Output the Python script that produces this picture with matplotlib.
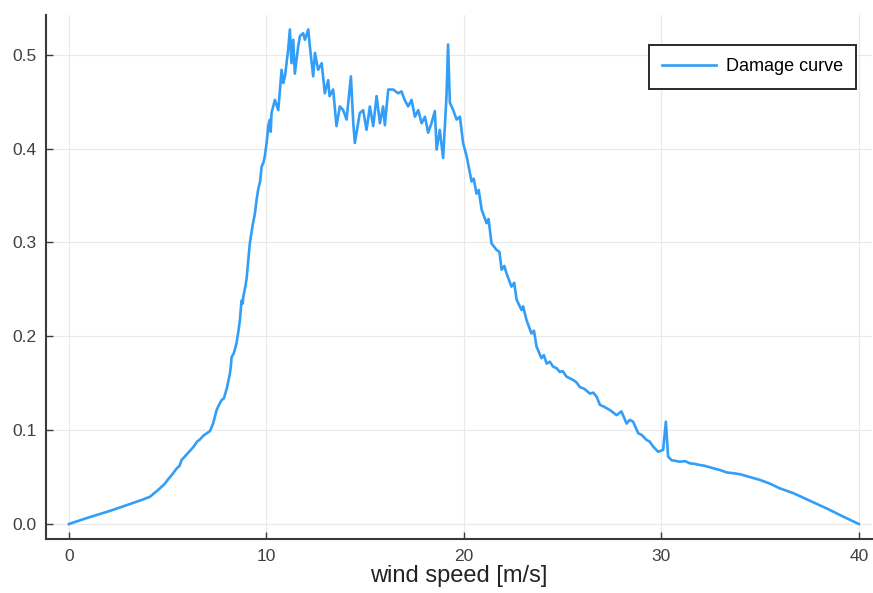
import matplotlib
matplotlib.use("Agg")
import matplotlib.pyplot as plt

# Damage curve (wind speed in m/s, damage)
wind_speed = [
    0.00, 1.00, 2.08, 2.90, 3.68, 4.10, 4.50, 4.86, 5.00, 5.20, 5.45, 5.60,
    5.70, 5.96, 6.13, 6.30, 6.50, 6.63, 6.80, 7.14, 7.30, 7.48, 7.60, 7.73,
    7.85, 8.00, 8.15, 8.20, 8.24, 8.35, 8.49, 8.58, 8.66, 8.74, 8.80, 8.83,
    8.95, 9.00, 9.10, 9.16, 9.30, 9.42, 9.50, 9.58, 9.68, 9.76, 9.85, 9.92,
    10.01, 10.10, 10.18, 10.22, 10.26, 10.43, 10.60, 10.77, 10.85, 10.94,
    11.10, 11.19, 11.27, 11.36, 11.44, 11.61, 11.70, 11.86, 11.95, 12.12,
    12.20, 12.37, 12.46, 12.62, 12.80, 12.96, 13.13, 13.20, 13.38, 13.55,
    13.72, 13.89, 14.06, 14.28, 14.40, 14.48, 14.73, 14.90, 15.07, 15.24,
    15.41, 15.58, 15.75, 15.91, 16.00, 16.17, 16.42, 16.67, 16.84, 17.00,
    17.18, 17.35, 17.52, 17.69, 17.86, 18.03, 18.19, 18.36, 18.53, 18.62,
    18.78, 18.95, 19.12, 19.20, 19.29, 19.46, 19.63, 19.80, 19.96, 20.14,
    20.39, 20.50, 20.64, 20.75, 20.90, 21.15, 21.25, 21.40, 21.66, 21.80,
    21.91, 22.05, 22.16, 22.41, 22.55, 22.67, 22.92, 23.00, 23.17, 23.42,
    23.55, 23.68, 23.93, 24.05, 24.19, 24.35, 24.52, 24.70, 24.86, 25.00,
    25.20, 25.53, 25.70, 25.87, 26.10, 26.38, 26.55, 26.72, 26.89, 27.10,
    27.39, 27.55, 27.73, 27.98, 28.24, 28.40, 28.57, 28.83, 29.00, 29.25,
    29.40, 29.59, 29.84, 30.09, 30.23, 30.34, 30.52, 30.94, 31.20, 31.44,
    31.70, 31.95, 32.20, 32.46, 32.70, 32.96, 33.30, 33.70, 34.00, 34.50,
    34.99, 35.50, 36.00, 36.67, 37.50, 38.36, 39.20, 40.00,
]
damage = [
    0.000, 0.007, 0.014, 0.020, 0.0256, 0.029, 0.036, 0.043, 0.047, 0.052, 0.059, 0.062,
    0.068, 0.074, 0.078, 0.082, 0.088, 0.090, 0.094, 0.099, 0.107, 0.1215, 0.127, 0.132,
    0.134, 0.145, 0.160, 0.168, 0.178, 0.182, 0.193, 0.205, 0.2175, 0.238, 0.235, 0.242,
    0.255, 0.262, 0.285, 0.299, 0.318, 0.331, 0.345, 0.356, 0.365, 0.381, 0.385, 0.392,
    0.406, 0.425, 0.431, 0.418, 0.438, 0.452, 0.441, 0.484, 0.470, 0.477,
    0.505, 0.527, 0.491, 0.516, 0.480, 0.509, 0.520, 0.523, 0.516, 0.527,
    0.509, 0.477, 0.502, 0.484, 0.491, 0.459, 0.473, 0.456, 0.463, 0.424,
    0.445, 0.441, 0.431, 0.477, 0.427, 0.406, 0.438, 0.441, 0.420, 0.445,
    0.424, 0.456, 0.427, 0.445, 0.425, 0.463, 0.463, 0.459, 0.461, 0.452,
    0.445, 0.452, 0.434, 0.441, 0.427, 0.434, 0.417, 0.427, 0.440, 0.399,
    0.420, 0.390, 0.456, 0.511, 0.449, 0.441, 0.431, 0.434, 0.406, 0.392,
    0.365, 0.368, 0.352, 0.356, 0.335, 0.3205, 0.325, 0.299, 0.292, 0.290,
    0.271, 0.275, 0.267, 0.253, 0.257, 0.239, 0.228, 0.232, 0.2175, 0.203,
    0.206, 0.189, 0.1767, 0.180, 0.171, 0.173, 0.1677, 0.166, 0.162, 0.163,
    0.157, 0.1535, 0.151, 0.146, 0.144, 0.139, 0.140, 0.1357, 0.127, 0.125,
    0.1215, 0.119, 0.116, 0.120, 0.107, 0.111, 0.109, 0.0967, 0.095, 0.0896,
    0.088, 0.0824, 0.077, 0.079, 0.109, 0.0718, 0.068, 0.0664, 0.067, 0.0647,
    0.064, 0.0629, 0.062, 0.0604, 0.059, 0.0576, 0.055, 0.054, 0.053, 0.050,
    0.047, 0.043, 0.038, 0.033, 0.025, 0.0167, 0.008, 0.000,
]

xticks = [0, 10, 20, 30, 40]
yticks = [0.0, 0.1, 0.2, 0.3, 0.4, 0.5]

plt.rcParams['font.family'] = ['Liberation Sans', 'DejaVu Sans']

fig = plt.figure(figsize=(8.73, 5.93), dpi=100)
ax = fig.add_axes([0.0527, 0.091, 0.946, 0.884])

ax.plot(wind_speed, damage, color='#339ef7', lw=1.9, label='Damage curve')

ax.set_xlim(-1.16, 40.66)
ax.set_ylim(-0.016, 0.5426)
ax.set_xticks(xticks)
ax.set_xticklabels([str(t) for t in xticks])
ax.set_yticks(yticks)
ax.set_yticklabels([f"{t:.1f}" for t in yticks])

ax.grid(True, color='#e9e9e9', lw=0.8)
ax.set_axisbelow(True)
for s in ['top', 'right']:
    ax.spines[s].set_visible(False)
for s in ['left', 'bottom']:
    ax.spines[s].set_color('#3a3a3a')
    ax.spines[s].set_linewidth(1.5)
ax.tick_params(direction='in', length=5, width=1, colors='#3a3a3a',
               labelsize=12.5, labelcolor='#404040', pad=7)

ax.set_xlabel('wind speed [m/s]', fontsize=17, color='#222222', labelpad=1)

leg = ax.legend(loc='upper right', bbox_to_anchor=(0.981, 0.943),
                borderaxespad=0, fontsize=13, handlelength=3.0,
                handletextpad=0.5, fancybox=False, framealpha=1,
                borderpad=0.75)
leg.get_frame().set_edgecolor('#2a2a2a')
leg.get_frame().set_linewidth(1.4)

plt.savefig('out.png', dpi=100)
plt.close()
